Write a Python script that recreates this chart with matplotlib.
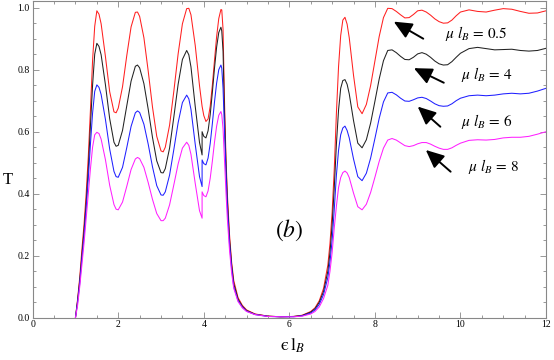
import matplotlib
matplotlib.use('Agg')
import matplotlib.pyplot as plt
from matplotlib.ticker import MultipleLocator, FormatStrFormatter

# Energia (eje x), con el punto 3.96 repetido para el salto de las curvas
x = [1.00, 1.05, 1.10, 1.15, 1.20, 1.25, 1.30, 1.35, 1.40, 1.45,
     1.50, 1.55, 1.60, 1.70, 1.80, 1.90, 1.95, 2.00, 2.10, 2.20,
     2.30, 2.40, 2.45, 2.50, 2.60, 2.70, 2.80, 2.90, 3.00, 3.05,
     3.10, 3.20, 3.30, 3.40, 3.50, 3.60, 3.65, 3.70, 3.80, 3.90,
     3.96, 3.96, 4.00, 4.05, 4.10, 4.15, 4.20, 4.25, 4.30, 4.35,
     4.40, 4.42, 4.45, 4.48, 4.50, 4.52, 4.55, 4.60, 4.65, 4.70,
     4.80, 4.90, 5.00, 5.20, 5.50, 5.80, 6.10, 6.30, 6.50, 6.60,
     6.70, 6.80, 6.90, 6.95, 7.00, 7.05, 7.10, 7.15, 7.20, 7.25,
     7.30, 7.35, 7.40, 7.50, 7.60, 7.70, 7.80, 7.90, 8.00, 8.10,
     8.20, 8.30, 8.40, 8.50, 8.60, 8.70, 8.80, 8.90, 9.00, 9.10,
     9.20, 9.30, 9.40, 9.50, 9.60, 9.70, 9.80, 9.90, 10.0, 10.2,
     10.4, 10.6, 10.8, 11.0, 11.2, 11.4, 11.6, 11.8, 12.0]

# Transmision T para cada mu*l_B
T_05 = [0.0, 0.06, 0.13, 0.22, 0.30, 0.40, 0.52, 0.67, 0.83, 0.94,
        0.99, 0.979, 0.948, 0.843, 0.729, 0.664, 0.661, 0.676, 0.745, 0.846,
        0.938, 0.985, 0.986, 0.972, 0.903, 0.796, 0.680, 0.585, 0.538, 0.535,
        0.550, 0.621, 0.731, 0.851, 0.948, 0.997, 0.998, 0.977, 0.878, 0.748,
        0.682, 0.682, 0.652, 0.633, 0.641, 0.682, 0.750, 0.830, 0.907, 0.965,
        0.994, 0.993, 0.93, 0.72, 0.61, 0.51, 0.40, 0.27, 0.18, 0.12,
        0.065, 0.040, 0.025, 0.012, 0.005, 0.003, 0.004, 0.008, 0.020, 0.032,
        0.055, 0.095, 0.17, 0.24, 0.34, 0.48, 0.66, 0.81, 0.91, 0.96,
        0.969, 0.947, 0.903, 0.782, 0.680, 0.658, 0.688, 0.749, 0.828, 0.907,
        0.968, 0.998, 0.997, 0.988, 0.977, 0.967, 0.968, 0.978, 0.990, 0.992,
        0.986, 0.976, 0.964, 0.955, 0.950, 0.951, 0.960, 0.974, 0.986, 0.993,
        0.988, 0.986, 0.992, 0.997, 0.995, 0.988, 0.982, 0.983, 0.990]

T_4 = [0.0, 0.055, 0.12, 0.20, 0.28, 0.37, 0.48, 0.62, 0.75, 0.85,
       0.885, 0.875, 0.848, 0.752, 0.642, 0.566, 0.553, 0.556, 0.604, 0.684,
       0.763, 0.811, 0.815, 0.806, 0.755, 0.673, 0.582, 0.506, 0.468, 0.467,
       0.481, 0.547, 0.648, 0.753, 0.833, 0.862, 0.848, 0.809, 0.681, 0.565,
       0.525, 0.600, 0.585, 0.580, 0.603, 0.655, 0.727, 0.805, 0.873, 0.920,
       0.937, 0.925, 0.86, 0.68, 0.58, 0.49, 0.38, 0.255, 0.17, 0.11,
       0.060, 0.037, 0.023, 0.011, 0.005, 0.003, 0.004, 0.007, 0.018, 0.029,
       0.050, 0.085, 0.15, 0.21, 0.30, 0.42, 0.56, 0.67, 0.74, 0.765,
       0.768, 0.753, 0.722, 0.636, 0.563, 0.548, 0.574, 0.628, 0.698, 0.770,
       0.829, 0.862, 0.864, 0.855, 0.843, 0.833, 0.832, 0.840, 0.851, 0.855,
       0.850, 0.840, 0.828, 0.819, 0.815, 0.816, 0.826, 0.840, 0.853, 0.868,
       0.872, 0.868, 0.864, 0.865, 0.866, 0.862, 0.860, 0.862, 0.869]

T_6 = [0.0, 0.05, 0.11, 0.19, 0.26, 0.35, 0.45, 0.56, 0.66, 0.73,
       0.751, 0.743, 0.720, 0.640, 0.544, 0.472, 0.455, 0.453, 0.485, 0.549,
       0.617, 0.661, 0.667, 0.662, 0.624, 0.560, 0.487, 0.426, 0.396, 0.395,
       0.406, 0.460, 0.543, 0.629, 0.694, 0.718, 0.706, 0.672, 0.559, 0.455,
       0.423, 0.509, 0.497, 0.493, 0.515, 0.562, 0.626, 0.696, 0.757, 0.800,
       0.815, 0.805, 0.74, 0.62, 0.54, 0.46, 0.36, 0.24, 0.16, 0.10,
       0.055, 0.034, 0.021, 0.010, 0.004, 0.003, 0.003, 0.006, 0.015, 0.025,
       0.043, 0.075, 0.13, 0.18, 0.25, 0.35, 0.46, 0.54, 0.59, 0.612,
       0.618, 0.604, 0.580, 0.512, 0.455, 0.442, 0.466, 0.515, 0.578, 0.643,
       0.696, 0.725, 0.727, 0.719, 0.708, 0.699, 0.698, 0.703, 0.709, 0.711,
       0.707, 0.699, 0.690, 0.684, 0.682, 0.683, 0.690, 0.700, 0.708, 0.716,
       0.718, 0.716, 0.718, 0.722, 0.724, 0.722, 0.724, 0.731, 0.740]

T_8 = [0.0, 0.04, 0.10, 0.17, 0.24, 0.32, 0.40, 0.48, 0.55, 0.59,
       0.598, 0.594, 0.576, 0.510, 0.427, 0.365, 0.350, 0.348, 0.373, 0.424,
       0.478, 0.512, 0.517, 0.513, 0.485, 0.436, 0.382, 0.336, 0.313, 0.313,
       0.321, 0.364, 0.429, 0.496, 0.547, 0.566, 0.556, 0.527, 0.433, 0.345,
       0.321, 0.406, 0.394, 0.390, 0.409, 0.450, 0.505, 0.566, 0.618, 0.653,
       0.665, 0.655, 0.61, 0.52, 0.46, 0.40, 0.32, 0.22, 0.145, 0.095,
       0.052, 0.032, 0.020, 0.010, 0.004, 0.003, 0.003, 0.005, 0.012, 0.020,
       0.035, 0.062, 0.105, 0.15, 0.21, 0.29, 0.36, 0.42, 0.452, 0.468,
       0.473, 0.467, 0.452, 0.402, 0.358, 0.348, 0.366, 0.404, 0.453, 0.504,
       0.547, 0.573, 0.578, 0.573, 0.564, 0.555, 0.552, 0.555, 0.561, 0.565,
       0.565, 0.560, 0.553, 0.547, 0.543, 0.543, 0.548, 0.556, 0.563, 0.572,
       0.574, 0.573, 0.575, 0.580, 0.582, 0.582, 0.585, 0.592, 0.600]

etiquetas = [r'$\mu\ l_B\,=\,0.5$', r'$\mu\ l_B\,=\,4$', r'$\mu\ l_B\,=\,6$', r'$\mu\ l_B\,=\,8$']
colores = ['#ff2020', '#222222', '#2020ff', '#ff20ff']
# (x, T) del texto y de la punta / cola de cada flecha
pos_texto = [(9.63, 0.917), (10.02, 0.783), (10.02, 0.632), (10.18, 0.487)]
punta = [(8.44, 0.955), (8.91, 0.805), (9.00, 0.681), (9.19, 0.541)]
cola = [(9.13, 0.900), (9.61, 0.758), (9.53, 0.616), (9.77, 0.471)]

plt.rcParams['mathtext.fontset'] = 'stix'
plt.rcParams['font.family'] = ['Liberation Serif', 'DejaVu Serif']

fig = plt.figure(figsize=(5.54, 3.6), dpi=100)
ax = fig.add_axes([0.059, 0.1175, 0.9266, 0.8806])

for T, c in zip([T_05, T_4, T_6, T_8], colores):
    ax.plot(x, T, color=c, lw=0.75)

for txt, pt, pp, pc in zip(etiquetas, pos_texto, punta, cola):
    ax.annotate('', xy=pp, xytext=pc,
                arrowprops=dict(arrowstyle='-|>,head_length=0.55,head_width=0.25',
                                color='k', lw=1.4, mutation_scale=20,
                                shrinkA=0, shrinkB=0))
    ax.text(pt[0], pt[1], txt, fontsize=11, ha='left', va='center')

ax.text(6.0, 0.283, r'$(b)$', fontsize=17, ha='center', va='center')

ax.set_xlim(0, 12)
ax.set_ylim(0, 1.0226)
ax.xaxis.set_major_locator(MultipleLocator(2))
ax.xaxis.set_minor_locator(MultipleLocator(0.5))
ax.yaxis.set_major_locator(MultipleLocator(0.2))
ax.yaxis.set_minor_locator(MultipleLocator(0.05))
ax.yaxis.set_major_formatter(FormatStrFormatter('%.1f'))

ax.tick_params(which='both', direction='in', top=True, right=True,
               color='#888888', width=0.6, labelsize=7, pad=2)
ax.tick_params(which='major', length=4)
ax.tick_params(which='minor', length=2)
for s in ax.spines.values():
    s.set_color('#888888')
    s.set_linewidth(0.8)

ax.set_xlabel('$\\mathrm{\u03f5\\,l}_B$', fontsize=13)
ax.xaxis.set_label_coords(0.505, -0.06)
ax.set_ylabel('T', fontsize=12, rotation=0, va='center')
ax.yaxis.set_label_coords(-0.048, 0.434)

plt.savefig('out.png', dpi=100)
